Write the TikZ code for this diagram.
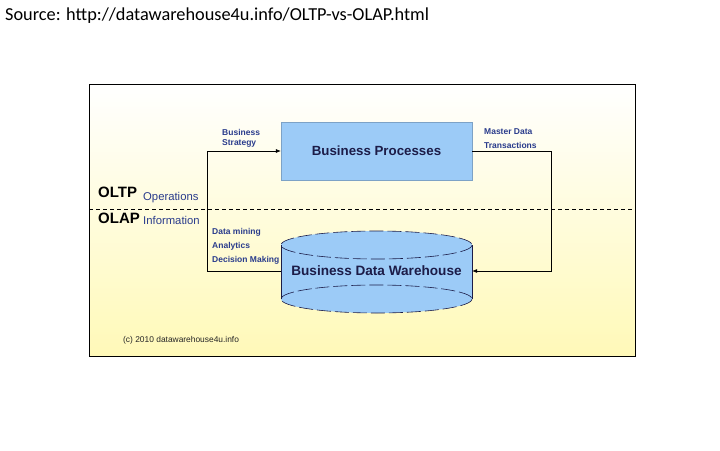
\documentclass[tikz,border=0pt]{standalone}
\usepackage{fontspec}
\setmainfont{Liberation Sans}
\newfontfamily\titlefont{Carlito}
\usetikzlibrary{arrows.meta}
\definecolor{boxblue}{HTML}{9CCBF7}
\definecolor{navy}{HTML}{1C1C48}
\definecolor{lblue}{HTML}{2A3C8C}
\definecolor{paleyel}{HTML}{FFF9B8}
\tikzset{
  proc/.style={fill=boxblue, draw=boxblue!80!black, line width=0.3pt, minimum width=191pt, minimum height=58pt, inner sep=0pt, font=\bfseries\fontsize{13.3}{15}\selectfont, text=navy},
  dwtext/.style={draw=none, minimum width=191pt, minimum height=54pt, inner sep=0pt, font=\bfseries\fontsize{13.6}{15}\selectfont, text=navy},
  small/.style={font=\bfseries\fontsize{8.5}{9}\selectfont, text=lblue, anchor=base west, inner sep=0pt},
  big/.style={font=\bfseries\fontsize{15}{17}\selectfont, text=black, anchor=base west, inner sep=0pt},
  sub/.style={font=\fontsize{11.3}{13}\selectfont, text=lblue, anchor=base west, inner sep=0pt},
  conn/.style={draw=black, line width=0.6pt},
  tip/.style={-{Latex[length=5pt,width=4pt]}},
}
\begin{document}
\begin{tikzpicture}[x=1pt,y=-1pt]
\useasboundingbox (0,0) rectangle (720,450);
\fill[white] (0,0) rectangle (720,450);
% title
\node[anchor=base west, inner sep=0pt, font=\titlefont\fontsize{18.3}{20}\selectfont] (title) at (5,20) {Source: http://datawarehouse4u.info/OLTP-vs-OLAP.html};
% panel
\shade[top color=white, bottom color=paleyel] (89,84) rectangle (635,356);
\draw[black, line width=0.8pt] (89,84) rectangle (635,356);
% dashed separator
\draw[black, line width=0.6pt, dash pattern=on 4pt off 3pt] (89,209) -- (635,209);
% labels OLTP/OLAP
\node[big] (oltp) at (98,197) {OLTP};
\node[sub] (ops) at (143,200) {Operations};
\node[big] (olap) at (98,223) {OLAP};
\node[sub] (inf) at (143,224) {Information};
% business processes box
\node[proc] (bp) at (376.5,151) {Business Processes};
% cylinder
\def\cl{281}\def\cr{472}\def\ct{245}\def\cb{299}\def\ry{14}
\fill[boxblue] (\cl,\ct) rectangle (\cr,\cb);
\fill[boxblue] (376.5,\ct) ellipse[x radius=95.5, y radius=\ry];
\fill[boxblue] (376.5,\cb) ellipse[x radius=95.5, y radius=\ry];
\draw[navy, line width=0.6pt] (\cl,\ct) -- (\cl,\cb) (\cr,\ct) -- (\cr,\cb);
\draw[navy, line width=0.6pt, dash pattern=on 14pt off 4pt] (376.5,\ct) ellipse[x radius=95.5, y radius=\ry];
\draw[navy, line width=0.6pt, dash pattern=on 14pt off 4pt] (376.5,\cb) ellipse[x radius=95.5, y radius=\ry];
\node[dwtext] (dw) at (376.5,271) {Business Data Warehouse};
% connectors
\coordinate (lc) at (207,271);
\coordinate (rc) at (551,151);
\draw[conn, tip] (dw.west) -- (lc) |- (bp.west);
\draw[conn, tip] (bp.east) -- (rc) |- (dw.east);
% small labels
\node[small] (bs1) at (222,135) {Business};
\node[small] (bs2) at (222,145) {Strategy};
\node[small] (md1) at (484,134) {Master Data};
\node[small] (md2) at (484,148) {Transactions};
\node[small] (d1) at (212,234) {Data mining};
\node[small] (d2) at (212,248) {Analytics};
\node[small] (d3) at (212,262) {Decision Making};
\node[anchor=base west, inner sep=0pt, font=\fontsize{8.4}{10}\selectfont, text=black!85] (copy) at (123,342) {(c) 2010 datawarehouse4u.info};
\end{tikzpicture}
\end{document}
